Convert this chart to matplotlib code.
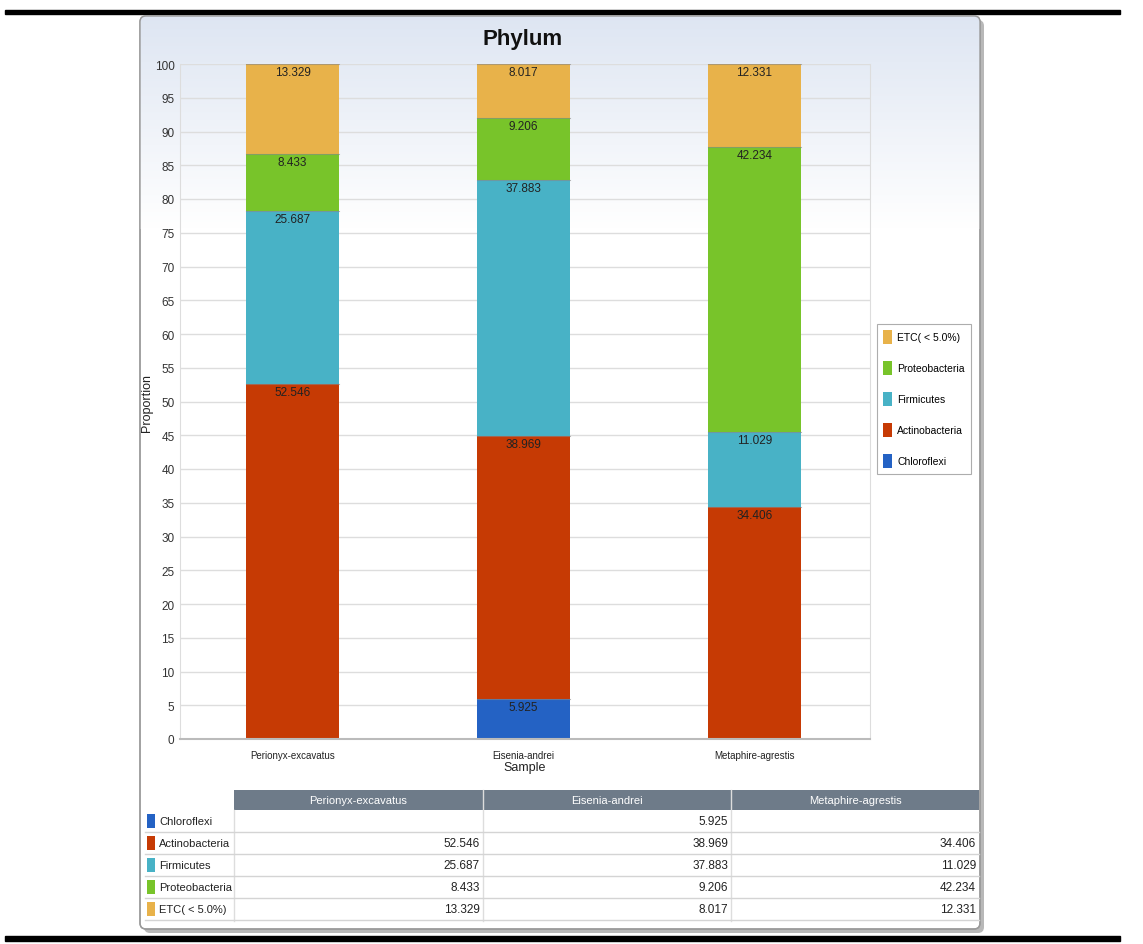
import numpy as np
import matplotlib.pyplot as plt
from matplotlib.patches import Rectangle, FancyBboxPatch

# sample names and phylum proportions (%)
samples = ['Perionyx-excavatus', 'Eisenia-andrei', 'Metaphire-agrestis']
phyla = ['Chloroflexi', 'Actinobacteria', 'Firmicutes', 'Proteobacteria', 'ETC( < 5.0%)']
chloroflexi = [None, 5.925, None]
actinobacteria = [52.546, 38.969, 34.406]
firmicutes = [25.687, 37.883, 11.029]
proteobacteria = [8.433, 9.206, 42.234]
etc = [13.329, 8.017, 12.331]
yticks = list(range(0, 101, 5))

colors = ['#2462c4', '#c63a04', '#48b2c6', '#78c42a', '#e8b24a']
FONT = ['Liberation Sans Narrow', 'DejaVu Sans Condensed', 'Liberation Sans', 'DejaVu Sans']
W, H = 1143, 945


def main():
    plt.rcParams['font.family'] = FONT
    fig = plt.figure(figsize=(W / 100, H / 100), dpi=100)

    # overlay in pixel coords for the frame, panel and table
    ov = fig.add_axes([0, 0, 1, 1])
    ov.set_xlim(0, W)
    ov.set_ylim(H, 0)
    ov.axis('off')
    ov.set_zorder(0)

    # black rules top / bottom
    ov.add_patch(Rectangle((5, 11), 1115, 4, color='black'))
    ov.add_patch(Rectangle((5, 937), 1115, 5, color='black'))

    # panel with shadow and gradient
    ov.add_patch(FancyBboxPatch((144, 21), 840, 913, boxstyle='round,pad=0,rounding_size=6',
                                fc='#b8b8b8', ec='none'))
    panel = FancyBboxPatch((140, 17), 840, 913, boxstyle='round,pad=0,rounding_size=6',
                           fc='white', ec='#9a9a9a', lw=1)
    ov.add_patch(panel)
    grad = np.linspace(0, 1, 200).reshape(-1, 1)
    top = np.array([0.87, 0.90, 0.95])
    img = top + (1 - top) * grad[:, :, None]
    im = ov.imshow(img, extent=(140, 980, 230, 17), aspect='auto', zorder=1)
    im.set_clip_path(panel)
    ov.add_patch(FancyBboxPatch((140, 17), 840, 913, boxstyle='round,pad=0,rounding_size=6',
                                fc='none', ec='#9a9a9a', lw=1, zorder=2))

    ov.text(523, 40, 'Phylum', ha='center', va='center', fontsize=16,
            fontweight='bold', color='#111111')

    # main chart
    ax = fig.add_axes([180 / W, (H - 740) / H, (870 - 180) / W, 675 / H])
    ax.set_zorder(1)
    ax.patch.set_alpha(0)
    x = np.arange(len(samples))
    series = [chloroflexi, actinobacteria, firmicutes, proteobacteria, etc]
    bottom = np.zeros(len(samples))
    handles = []
    for name, vals, c in zip(phyla, series, colors):
        v = np.array([0 if a is None else a for a in vals], dtype=float)
        h = ax.bar(x, v, 0.4, bottom=bottom, color=c, edgecolor='none', label=name, zorder=2)
        handles.append(h)
        for xi, vi, bi in zip(x, v, bottom):
            if vi > 0:
                ax.plot([xi - 0.2, xi + 0.2], [bi + vi, bi + vi], color='#888888',
                        lw=0.8, alpha=0.6, zorder=3)
                ax.text(xi, bi + vi - 0.3, f'{vi:.3f}', ha='center', va='top',
                        fontsize=8.5, color='#222222', zorder=4)
        bottom += v

    ax.set_xlim(-0.487, 2.5)
    ax.set_ylim(0, 100)
    ax.set_yticks(yticks)
    ax.tick_params(axis='y', length=0, pad=4, labelsize=8.5, labelcolor='#333333')
    ax.set_xticks(x)
    ax.set_xticklabels(samples)
    ax.tick_params(axis='x', length=0, pad=8, labelsize=7, labelcolor='#222222')
    ax.set_xlabel('Sample', fontsize=9, labelpad=1, color='#222222')
    ax.set_ylabel('Proportion', fontsize=9, labelpad=1, color='#222222')
    ax.yaxis.grid(True, color='#dddddd', lw=1, zorder=0)
    ax.spines['top'].set_visible(False)
    ax.spines['left'].set_color('#dddddd')
    ax.spines['right'].set_color('#dddddd')
    ax.spines['bottom'].set_color('#bbbbbb')
    ax.spines['bottom'].set_linewidth(1.5)

    leg = ax.legend(handles[::-1], phyla[::-1], loc='upper left',
                    bbox_to_anchor=(877 / W, 1 - 325 / H), bbox_transform=fig.transFigure,
                    fontsize=7.5, frameon=True, fancybox=False, edgecolor='#999999',
                    handlelength=0.9, handleheight=1.8, labelspacing=1.56,
                    borderpad=0.55, handletextpad=0.5, borderaxespad=0)
    leg.get_frame().set_linewidth(0.8)

    # data table
    col_x = [234, 483, 731, 979]
    ov.add_patch(Rectangle((col_x[0], 791), col_x[-1] - col_x[0], 20, fc='#6e7b89', ec='none', zorder=3))
    for i, s in enumerate(samples):
        ov.text((col_x[i] + col_x[i + 1]) / 2, 801, s, ha='center', va='center',
                fontsize=8, color='white', zorder=4)
        if i > 0:
            ov.plot([col_x[i], col_x[i]], [791, 922], color='#dddddd', lw=1, zorder=4)
    ov.plot([col_x[0], col_x[0]], [811, 922], color='#dddddd', lw=1, zorder=4)
    row_h = 22
    y0 = 811
    for r, (name, vals, c) in enumerate(zip(phyla, series, colors)):
        yt = y0 + r * row_h
        ov.plot([145, col_x[-1]], [yt + row_h, yt + row_h], color='#d4d4d4', lw=1, zorder=4)
        ov.add_patch(Rectangle((147, yt + 4), 8, 14, fc=c, ec='none', zorder=4))
        ov.text(159, yt + row_h / 2, name, ha='left', va='center', fontsize=8,
                color='#222222', zorder=4)
        for i, v in enumerate(vals):
            if v is not None:
                ov.text(col_x[i + 1] - 3, yt + row_h / 2, f'{v:.3f}', ha='right',
                        va='center', fontsize=8.5, color='#222222', zorder=4)

    fig.savefig('out.png', dpi=100)


if __name__ == "__main__":
    main()
